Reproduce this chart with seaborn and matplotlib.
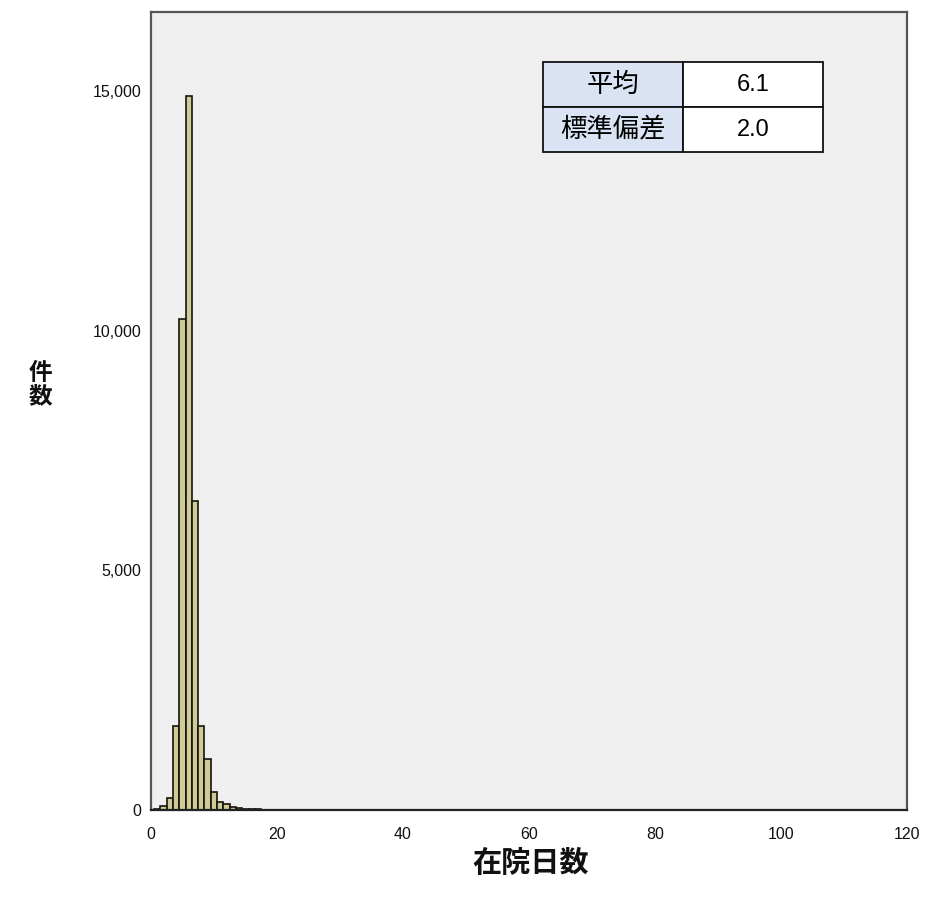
import numpy as np
import pandas as pd
import seaborn as sns
import matplotlib.pyplot as plt
from matplotlib.ticker import FuncFormatter

# length of stay (days) and number of cases per day
days_core = [1, 2, 3, 4, 5, 6, 7, 8, 9, 10, 11, 12]
counts_core = [10, 80, 260, 1750, 10250, 14900, 6450, 1750, 1060, 380, 170, 120]

days_tail = [13, 14, 15, 16, 17, 18, 19, 20, 21, 22, 23, 24, 25, 26, 27, 28, 29, 30,
             31, 32, 33, 34, 35, 36, 37, 38, 39, 40, 41, 42, 43, 44, 45, 46, 47, 48,
             49, 50, 51, 53, 54, 55, 56, 62, 79, 85, 89, 90, 91, 108, 109]
counts_tail = [60, 40, 25, 15, 11, 9, 7, 6, 5, 5, 4, 4, 4, 3, 3, 3, 3, 3,
               3, 6, 4, 3, 3, 6, 4, 3, 6, 4, 6, 4, 6, 4, 6, 5, 3, 2,
               2, 2, 6, 6, 3, 6, 3, 6, 5, 5, 4, 5, 4, 4, 5]

stat_labels = ["平均", "標準偏差"]
stat_values = ["6.1", "2.0"]

x_ticks = [0, 20, 40, 60, 80, 100, 120]
y_ticks = [0, 5000, 10000, 15000]

df = pd.DataFrame({
    "在院日数": days_core + days_tail,
    "件数": counts_core + counts_tail,
})

sns.set_style("white")
plt.rcParams['font.family'] = ['Liberation Sans', 'Noto Sans CJK JP', 'DejaVu Sans']

fig = plt.figure(figsize=(9.26, 9.05), dpi=100)
ax = fig.add_axes([0.163, 0.105, 0.8165, 0.8815])
ax.set_facecolor("#efefef")

sns.histplot(data=df, x="在院日数", weights="件数", discrete=True,
             color="#cfca98", edgecolor="#15150a", linewidth=1.2, alpha=1, ax=ax)

ax.set_xlim(0, 120)
ax.set_ylim(0, 16650)
ax.set_xticks(x_ticks)
ax.set_yticks(y_ticks)
ax.yaxis.set_major_formatter(FuncFormatter(lambda v, p: f"{int(v):,}"))
ax.tick_params(axis="both", length=0, labelsize=11.5, colors="#111111")
ax.tick_params(axis="x", pad=12)
ax.tick_params(axis="y", pad=7)
ax.set_xlabel("")
ax.set_ylabel("")
for s in ax.spines.values():
    s.set_color("#555555")
    s.set_linewidth(1.6)
ax.spines["bottom"].set_color("#222222")

# axis titles
fig.text(0.573, 0.046, "在院日数", ha="center", va="center", fontsize=21,
         fontweight="bold", color="#111111", family=["Noto Sans CJK JP"])
fig.text(0.044, 0.575, "件\n数", ha="center", va="center", fontsize=17,
         fontweight="bold", color="#111111", family=["Noto Sans CJK JP"],
         linespacing=1.0)

# statistics table
cells = [[lab, val] for lab, val in zip(stat_labels, stat_values)]
tbl = ax.table(cellText=cells, bbox=[0.5185, 0.8246, 0.3705, 0.1127],
               cellLoc="center")
tbl.auto_set_font_size(False)
for (r, c), cell in tbl.get_celld().items():
    cell.set_edgecolor("#111111")
    cell.set_linewidth(1.3)
    txt = cell.get_text()
    txt.set_color("black")
    if c == 0:
        cell.set_facecolor("#dae3f3")
        txt.set_fontfamily(["Noto Sans CJK JP"])
        txt.set_fontsize(19)
    else:
        cell.set_facecolor("white")
        txt.set_fontsize(17)

fig.savefig("out.png", dpi=100, facecolor="white")
